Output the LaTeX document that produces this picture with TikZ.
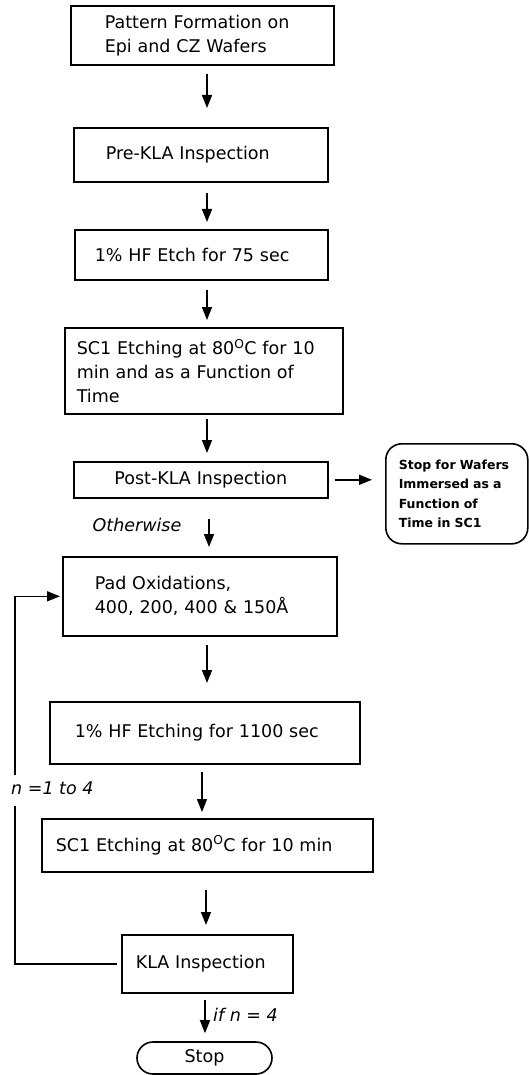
\documentclass[tikz,border=0pt]{standalone}
\usepackage{fontspec}
\setmainfont{DejaVu Sans}
\usetikzlibrary{arrows.meta}
\begin{document}
\begin{tikzpicture}[x=1pt,y=-1pt,
  box/.style={draw, line width=1.6pt, rectangle, anchor=north west, align=left,
    inner ysep=0pt, font=\fontsize{17.5}{24}\selectfont},
  arr/.style={line width=1.6pt, -{Triangle[length=13pt,width=10pt]}},
  plain/.style={line width=1.6pt},
  lbl/.style={font=\fontsize{17.5}{22}\selectfont\itshape, inner sep=0pt}]
\useasboundingbox (0,0) rectangle (529,1075);

% boxes
\node[box, text width=195pt, inner xsep=34pt, minimum height=59pt] (b1) at (70,5)
  {Pattern Formation on\\Epi and CZ Wafers};
\node[box, text width=190pt, inner xsep=32pt, minimum height=54pt] (b2) at (73,127)
  {Pre-KLA Inspection};
\node[box, text width=213pt, inner xsep=20pt, minimum height=50pt] (b3) at (74,229)
  {1\% HF Etch for 75 sec};
\node[box, text width=254pt, inner xsep=12pt, minimum height=86pt] (b4) at (64,327)
  {SC1 Etching at 80\textsuperscript{O}C for 10\\min and as a Function of\\Time};
\node[box, align=center, text width=234pt, inner xsep=10pt, minimum height=36pt] (b5) at (73,461)
  {Post-KLA Inspection};
\node[box, text width=210pt, inner xsep=32pt, minimum height=79pt] (b6) at (62,556)
  {Pad Oxidations,\\400, 200, 400 \& 150Å};
\node[box, text width=260pt, inner xsep=25pt, minimum height=62pt] (b7) at (49,701)
  {1\% HF Etching for 1100 sec};
\node[box, text width=303pt, inner xsep=14pt, minimum height=53pt] (b8) at (41,818)
  {SC1 Etching at 80\textsuperscript{O}C for 10 min};
\node[box, text width=143pt, inner xsep=14pt, minimum height=58pt] (b9) at (121,934)
  {KLA Inspection};

\node[draw, line width=1.6pt, rounded corners=16pt, anchor=north west, align=left,
  text width=116pt, inner xsep=13pt, minimum height=100pt,
  font=\fontsize{12.5}{19.5}\selectfont\bfseries] (side) at (385,443)
  {Stop for Wafers\\Immersed as a\\Function of\\Time in SC1};

\node[draw, line width=1.6pt, rounded corners=16pt, minimum width=135pt, minimum height=32pt,
  font=\fontsize{17.5}{20}\selectfont] (stop) at (204.5,1058) {Stop};

% labels
\node[lbl] (oth) at (137,525) {Otherwise};
\node[lbl, anchor=west] (nlab) at (11,788) {n =1 to 4};
\node[lbl, anchor=west] (ifn) at (213,1015) {if n = 4};

% arrow columns
\coordinate (c207) at (207,0);
\coordinate (c209) at (209,0);
\coordinate (c202) at (202,0);
\coordinate (c206) at (206,0);
\coordinate (c205) at (205,0);

\draw[arr, shorten <=8pt, shorten >=19pt] (b1.south -| c207) -- (b2.north -| c207);
\draw[arr, shorten <=10pt, shorten >=7pt] (b2.south -| c207) -- (b3.north -| c207);
\draw[arr, shorten <=9pt, shorten >=7pt] (b3.south -| c207) -- (b4.north -| c207);
\draw[arr, shorten <=4pt, shorten >=8pt] (b4.south -| c207) -- (b5.north -| c207);
\draw[arr, shorten <=20pt, shorten >=9pt] (b5.south -| c209) -- (b6.north -| c209);
\draw[arr, shorten <=8pt, shorten >=18pt] (b6.south -| c207) -- (b7.north -| c207);
\draw[arr, shorten <=7pt, shorten >=6pt] (b7.south -| c202) -- (b8.north -| c202);
\draw[arr, shorten <=17pt, shorten >=9pt] (b8.south -| c206) -- (b9.north -| c206);
\draw[arr, shorten <=6pt, shorten >=8pt] (b9.south -| c205) -- (stop.north -| c205);
\draw[arr, shorten <=6pt, shorten >=13pt] (b5.east) -- (side.west |- b5.east);

% loop
\coordinate (g1) at (15,806);
\coordinate (g2) at (15,775);
\draw[plain, shorten <=4pt] (b9.west) -| (g1);
\draw[arr, shorten >=2pt] (g2) |- (b6.west);
\end{tikzpicture}
\end{document}
